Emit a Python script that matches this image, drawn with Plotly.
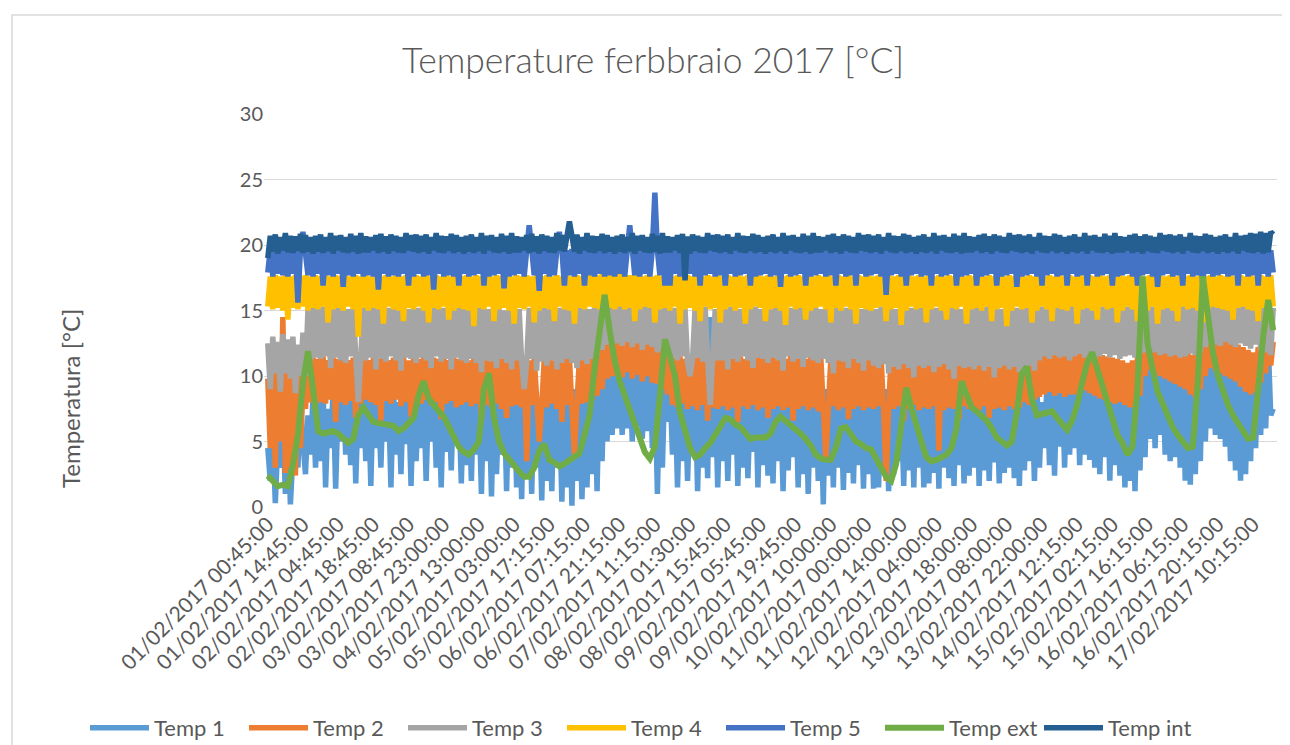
import numpy as np
import plotly.graph_objects as go

# ---------------- data ----------------
tick_labels = [
    "01/02/2017 00:45:00", "01/02/2017 14:45:00", "02/02/2017 04:45:00", "02/02/2017 18:45:00",
    "03/02/2017 08:45:00", "03/02/2017 23:00:00", "04/02/2017 13:00:00", "05/02/2017 03:00:00",
    "05/02/2017 17:15:00", "06/02/2017 07:15:00", "06/02/2017 21:15:00", "07/02/2017 11:15:00",
    "08/02/2017 01:30:00", "08/02/2017 15:45:00", "09/02/2017 05:45:00", "09/02/2017 19:45:00",
    "10/02/2017 10:00:00", "11/02/2017 00:00:00", "11/02/2017 14:00:00", "12/02/2017 04:00:00",
    "12/02/2017 18:00:00", "13/02/2017 08:00:00", "13/02/2017 22:00:00", "14/02/2017 12:15:00",
    "15/02/2017 02:15:00", "15/02/2017 16:15:00", "16/02/2017 06:15:00", "16/02/2017 20:15:00",
    "17/02/2017 10:15:00",
]
label_step = 56        # categories (15-min samples) between two shown labels
step_sensors = 4       # categories between two plotted samples of the sensor series (1 h)
step_ext = 8           # categories between two plotted samples of Temp ext (2 h)

temp1 = [
    4.5, 2.0, 6.0, 0.3, 5.0, 3.0, 7.0, 1.0, 6.5, 0.2, 4.0, 7.5, 3.0, 8.0, 5.0, 2.5, 7.0, 4.0, 8.5, 3.0,
    8.0, 3.5, 9.0, 1.5, 7.5, 4.5, 9.0, 1.4, 8.0, 5.0, 9.0, 4.0, 8.5, 3.2, 9.0, 1.8, 8.0, 4.5, 9.0, 3.5,
    8.5, 1.6, 9.0, 4.5, 8.0, 3.0, 9.0, 5.0, 8.5, 1.5, 9.0, 4.0, 8.0, 2.5, 9.0, 4.8, 8.5, 1.6, 9.0, 3.5,
    8.0, 4.5, 9.0, 2.0, 8.5, 5.0, 9.0, 3.0, 8.0, 1.5, 9.0, 4.2, 8.5, 2.8, 9.0, 5.0, 8.0, 1.8, 9.0, 3.2,
    8.5, 2.0, 9.0, 4.0, 8.0, 1.0, 9.0, 3.5, 8.5, 0.8, 9.0, 2.5, 8.0, 4.0, 9.0, 1.2, 8.5, 3.0, 9.0, 1.5,
    8.0, 0.6, 9.0, 2.5, 8.5, 1.0, 9.0, 3.0, 8.0, 0.5, 9.0, 2.0, 8.5, 1.2, 9.0, 3.0, 8.0, 0.4, 9.0, 1.5,
    8.5, 0.1, 9.0, 2.0, 8.0, 0.6, 9.0, 1.5, 8.5, 2.5, 9.0, 1.2, 10.0, 3.5, 11.0, 5.0, 14.5, 5.5, 11.0, 6.0,
    11.5, 5.5, 11.0, 6.0, 11.2, 5.0, 10.8, 6.2, 11.0, 5.2, 10.5, 5.8, 11.0, 4.5, 10.0, 1.0, 9.5, 3.0, 10.2, 6.5,
    9.5, 4.0, 9.0, 1.5, 8.5, 3.5, 9.0, 2.0, 8.0, 4.5, 9.0, 1.2, 8.5, 3.0, 9.0, 2.2, 14.5, 3.8, 9.0, 1.5,
    8.5, 3.5, 9.0, 2.0, 8.0, 4.0, 9.0, 1.6, 8.5, 3.0, 9.0, 2.2, 8.0, 4.2, 9.0, 1.5, 8.5, 3.2, 9.0, 2.4,
    8.5, 1.8, 9.0, 3.5, 8.0, 1.2, 9.0, 2.8, 8.5, 3.8, 9.0, 1.5, 8.0, 2.5, 9.0, 1.0, 8.5, 3.0, 9.0, 2.0,
    8.0, 0.2, 9.0, 2.4, 8.5, 1.5, 9.0, 3.0, 8.0, 1.3, 9.0, 2.6, 8.5, 1.8, 9.0, 3.2, 8.0, 1.4, 9.0, 2.5,
    8.5, 1.4, 9.0, 1.5, 8.0, 2.8, 9.0, 1.2, 8.5, 2.5, 9.0, 3.5, 8.0, 1.6, 9.0, 2.8, 8.5, 1.5, 9.0, 3.0,
    8.0, 1.5, 9.0, 1.8, 8.5, 2.6, 9.0, 1.4, 14.8, 3.0, 9.0, 2.2, 8.5, 1.6, 9.0, 3.2, 8.0, 1.8, 9.0, 2.4,
    8.5, 3.0, 9.0, 1.6, 8.0, 2.8, 9.0, 2.0, 8.5, 3.4, 9.0, 1.8, 8.0, 2.6, 9.0, 3.0, 8.5, 2.2, 9.0, 1.6,
    8.0, 2.8, 9.0, 3.5, 8.5, 2.0, 9.0, 3.0, 8.0, 4.5, 9.5, 3.2, 10.0, 2.4, 9.6, 4.6, 10.0, 3.0, 9.8, 4.0,
    9.5, 4.5, 10.0, 3.2, 9.8, 4.0, 10.2, 3.6, 9.5, 3.0, 10.0, 2.5, 9.5, 3.8, 9.8, 2.0, 9.5, 3.2, 9.2, 2.4,
    9.0, 1.5, 8.8, 2.0, 9.0, 1.2, 9.2, 2.8, 10.0, 3.8, 11.0, 5.2, 11.5, 4.5, 11.0, 5.5, 10.8, 4.0, 10.5, 3.5,
    10.2, 3.8, 10.0, 3.0, 9.8, 2.0, 9.6, 1.7, 9.5, 2.5, 10.0, 3.5, 11.5, 5.0, 11.2, 6.0, 11.0, 5.5, 10.8, 5.2,
    10.6, 4.6, 10.4, 3.5, 10.2, 2.8, 10.0, 2.0, 9.8, 2.5, 10.5, 3.5, 11.0, 4.5, 11.5, 5.5, 12.0, 6.0, 12.5, 7.0,
    7.5,
]
temp2 = [
    9.8, 4.5, 10.5, 3.0, 11.0, 5.0, 14.5, 2.6, 12.0, 3.0, 10.0, 2.4, 11.5, 4.5, 9.0, 7.5, 11.0, 8.0, 11.4, 7.8,
    11.3, 8.0, 11.5, 7.9, 11.2, 8.2, 11.4, 6.5, 11.3, 8.0, 11.5, 7.8, 11.2, 8.1, 11.4, 6.8, 11.3, 7.9, 11.5, 8.2,
    11.2, 8.0, 11.4, 7.8, 11.3, 6.6, 11.5, 8.1, 11.2, 7.9, 11.4, 8.2, 11.3, 7.7, 11.5, 8.0, 11.2, 6.9, 11.4, 8.1,
    11.3, 7.9, 11.5, 8.2, 11.2, 7.8, 11.4, 8.0, 11.3, 6.7, 11.5, 7.9, 11.2, 8.1, 11.4, 7.6, 11.3, 7.8, 11.5, 8.0,
    11.2, 7.7, 11.4, 7.9, 11.3, 6.5, 11.5, 7.8, 11.2, 7.6, 11.4, 7.9, 11.3, 7.5, 11.5, 6.8, 11.2, 7.7, 11.4, 7.8,
    11.3, 7.6, 11.5, 3.5, 11.2, 7.8, 11.4, 7.5, 5.0, 7.7, 11.3, 7.6, 11.5, 7.9, 11.2, 7.5, 11.4, 6.5, 11.3, 7.8,
    11.4, 7.6, 4.0, 7.8, 11.5, 7.9, 11.2, 8.0, 11.4, 8.2, 11.5, 8.5, 12.0, 9.0, 12.4, 9.8, 12.8, 10.0, 13.0, 10.2,
    12.8, 9.9, 13.1, 10.3, 12.9, 9.8, 13.0, 10.1, 12.7, 9.6, 12.9, 10.0, 12.6, 9.5, 12.8, 9.4, 12.4, 9.0, 12.0, 8.6,
    11.6, 7.8, 11.4, 7.6, 11.5, 7.9, 11.3, 7.5, 11.6, 7.7, 11.4, 7.4, 11.5, 7.8, 11.3, 6.6, 11.6, 7.6, 11.4, 7.5,
    11.5, 7.7, 11.3, 7.4, 11.6, 7.6, 11.4, 6.5, 11.5, 7.7, 11.3, 7.5, 11.6, 7.8, 11.4, 7.4, 11.5, 7.6, 11.3, 6.8,
    11.6, 7.5, 11.4, 7.7, 11.5, 7.4, 11.3, 7.6, 11.6, 6.6, 11.4, 7.5, 11.5, 7.7, 11.3, 7.4, 11.6, 7.6, 11.4, 7.3,
    11.5, 7.6, 3.7, 7.5, 11.3, 7.7, 11.6, 7.4, 11.4, 7.6, 11.5, 6.7, 11.3, 7.5, 11.6, 7.7, 11.4, 7.4, 11.5, 7.6,
    11.3, 7.5, 11.6, 7.7, 11.4, 7.4, 2.0, 7.6, 11.5, 7.5, 11.3, 7.7, 11.6, 6.6, 11.4, 7.5, 11.5, 7.8, 11.3, 7.4,
    11.6, 7.6, 11.4, 7.5, 11.5, 7.7, 11.3, 4.3, 11.6, 7.4, 11.4, 7.6, 11.5, 7.5, 11.3, 6.7, 11.6, 7.7, 11.4, 7.5,
    11.5, 7.6, 11.3, 7.4, 11.6, 7.7, 11.4, 6.8, 11.5, 7.5, 11.3, 7.6, 11.6, 7.4, 11.4, 7.7, 11.5, 7.5, 11.3, 7.6,
    11.6, 8.0, 11.4, 7.8, 11.5, 8.2, 11.7, 8.4, 11.8, 8.6, 12.0, 8.8, 11.9, 8.5, 12.1, 8.7, 11.8, 8.4, 12.0, 8.6,
    12.0, 8.6, 11.8, 8.8, 12.2, 8.9, 12.0, 8.7, 11.9, 8.5, 11.8, 8.3, 11.6, 8.2, 11.5, 8.0, 11.4, 7.9, 11.3, 8.0,
    11.2, 7.8, 11.0, 7.6, 11.2, 7.8, 11.5, 8.5, 13.0, 10.0, 13.5, 10.5, 13.2, 10.2, 13.0, 10.0, 12.8, 9.8, 12.6, 9.6,
    12.5, 9.4, 12.3, 9.2, 12.0, 9.0, 11.8, 8.6, 11.6, 8.4, 11.8, 9.0, 12.5, 10.0, 13.5, 10.6, 13.3, 10.4, 13.2, 10.2,
    13.0, 10.0, 12.8, 9.8, 12.6, 9.6, 12.4, 9.2, 12.2, 8.8, 12.0, 8.6, 11.8, 8.8, 12.2, 9.5, 12.6, 10.2, 13.0, 10.8,
    12.6,
]
temp3 = [
    12.5, 9.0, 13.0, 10.2, 12.6, 8.8, 13.2, 10.2, 12.8, 9.8, 13.0, 8.7, 12.4, 10.0, 13.3, 10.0, 15.1, 11.2, 15.2, 11.4,
    15.2, 11.3, 15.3, 11.5, 15.1, 10.6, 15.2, 11.4, 15.2, 11.2, 15.2, 11.0, 15.1, 11.5, 15.2, 11.3, 8.0, 11.4, 15.3, 11.2,
    15.1, 11.4, 15.2, 10.5, 15.3, 11.3, 15.2, 11.1, 15.2, 11.5, 15.1, 11.2, 15.2, 10.4, 15.3, 11.4, 15.1, 11.3, 15.2, 11.0,
    15.2, 11.4, 15.3, 11.2, 15.1, 10.6, 15.2, 11.5, 15.2, 11.1, 15.2, 11.3, 15.3, 10.5, 15.1, 11.4, 15.2, 11.2, 15.2, 11.0,
    15.1, 11.3, 15.2, 11.0, 15.2, 10.3, 15.1, 11.2, 15.1, 11.1, 15.2, 10.6, 15.2, 11.3, 15.0, 11.0, 15.1, 10.5, 15.2, 11.2,
    15.1, 11.1, 9.0, 11.0, 15.2, 11.3, 15.0, 10.4, 15.2, 11.1, 15.2, 10.8, 15.1, 11.2, 15.1, 10.5, 15.2, 11.0, 15.2, 11.3,
    15.1, 11.0, 15.1, 10.6, 15.2, 11.2, 15.2, 10.9, 15.1, 11.3, 15.3, 11.6, 15.4, 12.0, 15.4, 12.4, 15.5, 12.2, 15.4, 12.5,
    15.5, 12.3, 15.4, 12.6, 15.5, 12.2, 15.4, 12.5, 15.5, 12.0, 15.4, 12.4, 15.4, 12.2, 15.3, 11.8, 15.3, 12.0, 15.2, 11.6,
    15.2, 11.4, 15.2, 11.2, 15.3, 11.5, 15.1, 11.0, 10.0, 11.3, 15.2, 11.4, 15.2, 11.1, 15.3, 11.3, 7.8, 11.4, 15.1, 11.2,
    15.2, 11.2, 15.2, 10.5, 15.3, 11.3, 15.2, 11.1, 15.1, 11.5, 15.2, 11.2, 15.2, 10.6, 15.3, 11.4, 15.1, 11.3, 15.2, 11.0,
    15.2, 11.4, 15.3, 11.2, 15.1, 10.4, 15.2, 11.5, 15.2, 11.1, 15.2, 11.3, 15.3, 10.7, 15.1, 11.4, 15.2, 11.2, 15.2, 11.0,
    15.1, 11.3, 15.2, 11.0, 15.2, 10.2, 15.3, 11.2, 15.1, 11.1, 15.2, 10.6, 15.2, 11.3, 15.2, 11.0, 15.1, 10.4, 15.2, 11.2,
    15.2, 10.8, 15.1, 10.6, 15.3, 10.9, 15.2, 10.2, 15.2, 10.7, 15.1, 10.5, 15.2, 10.9, 15.2, 10.6, 15.2, 9.9, 15.1, 10.8,
    15.3, 10.6, 15.1, 10.8, 15.2, 10.3, 15.2, 10.7, 15.3, 10.9, 15.1, 10.5, 15.2, 9.8, 15.2, 10.8, 15.1, 10.6, 15.2, 10.7,
    15.2, 10.5, 15.2, 10.8, 15.1, 10.4, 15.3, 10.7, 15.2, 9.9, 15.2, 10.6, 15.1, 10.8, 15.3, 10.5, 15.2, 10.7, 15.2, 10.3,
    15.1, 10.6, 15.3, 10.8, 15.2, 10.4, 15.2, 11.2, 15.3, 11.5, 15.3, 11.3, 15.2, 11.6, 15.4, 11.4, 15.3, 11.5, 15.3, 11.2,
    15.4, 11.5, 15.3, 11.7, 15.3, 11.4, 15.3, 11.6, 15.4, 11.3, 15.3, 11.5, 15.3, 11.7, 15.3, 11.4, 15.4, 11.6, 15.3, 11.3,
    15.3, 11.5, 15.3, 11.6, 15.4, 11.4, 15.3, 11.7, 15.3, 11.8, 15.4, 12.0, 15.3, 11.8, 15.4, 11.6, 15.4, 11.7, 15.4, 11.5,
    15.3, 11.6, 15.3, 11.4, 15.4, 11.5, 15.4, 11.7, 15.4, 11.6, 15.3, 11.8, 15.4, 12.2, 15.5, 12.5, 15.6, 12.4, 15.5, 12.3,
    15.6, 12.6, 15.5, 12.4, 15.6, 12.2, 15.5, 12.5, 15.5, 12.3, 15.6, 12.1, 15.5, 12.4, 15.4, 12.0, 15.3, 11.8, 15.3, 11.6,
    15.2,
]
temp4 = [
    15.3, 17.6, 15.1, 17.7, 15.2, 17.6, 15.0, 17.7, 14.3, 17.6, 15.2, 17.7, 15.1, 17.6, 15.3, 17.7, 15.0, 17.6, 15.2, 17.7,
    15.1, 17.6, 15.3, 17.7, 14.1, 17.6, 15.1, 17.7, 15.2, 17.6, 15.0, 17.7, 15.3, 17.6, 15.1, 17.7, 13.0, 17.6, 15.2, 17.7,
    15.0, 17.6, 15.2, 17.7, 15.1, 17.6, 14.0, 17.7, 15.3, 17.6, 15.1, 17.7, 15.0, 17.6, 14.2, 17.7, 15.2, 17.6, 15.1, 17.7,
    15.3, 17.6, 15.0, 17.7, 14.1, 17.6, 15.2, 17.7, 15.1, 17.6, 15.3, 17.7, 14.3, 17.6, 15.0, 17.7, 15.2, 17.6, 15.1, 17.7,
    15.0, 17.6, 13.8, 17.7, 15.2, 17.6, 15.1, 17.7, 15.3, 17.6, 14.2, 17.7, 15.1, 17.6, 15.2, 17.7, 15.0, 17.6, 14.0, 17.7,
    15.2, 17.6, 15.1, 17.7, 15.3, 17.6, 14.1, 17.7, 15.0, 17.6, 15.2, 17.7, 15.1, 17.6, 14.2, 17.7, 15.3, 17.6, 15.1, 17.7,
    15.0, 17.6, 14.0, 17.7, 15.2, 17.6, 15.1, 17.7, 15.3, 17.7, 15.2, 17.7, 15.1, 17.8, 15.3, 17.8, 15.2, 17.9, 15.1, 17.8,
    15.3, 17.8, 15.1, 17.7, 15.2, 17.7, 14.2, 17.7, 15.1, 17.6, 15.3, 17.7, 15.2, 17.6, 14.1, 17.7, 15.1, 17.6, 15.2, 17.7,
    15.0, 17.6, 15.3, 17.7, 14.0, 17.6, 15.1, 17.7, 15.2, 17.6, 15.0, 17.7, 14.2, 17.6, 15.3, 17.7, 15.1, 17.6, 15.2, 17.7,
    14.1, 17.6, 15.1, 17.7, 15.3, 17.6, 15.0, 17.7, 15.2, 17.6, 14.0, 17.7, 15.1, 17.6, 15.3, 17.7, 15.2, 17.6, 14.2, 17.7,
    15.1, 17.6, 15.2, 17.7, 15.0, 17.6, 13.9, 17.7, 15.3, 17.6, 15.1, 17.7, 15.2, 17.6, 14.3, 17.7, 15.0, 17.6, 15.2, 17.7,
    15.3, 17.6, 15.1, 17.7, 14.1, 17.6, 15.2, 17.7, 15.0, 17.6, 15.3, 17.7, 15.1, 17.6, 14.0, 17.7, 15.2, 17.6, 15.1, 17.7,
    15.0, 17.6, 15.2, 17.7, 15.3, 17.6, 14.2, 17.7, 15.1, 17.6, 15.2, 17.7, 13.9, 17.6, 15.0, 17.7, 15.3, 17.6, 15.1, 17.7,
    15.2, 17.6, 14.1, 17.7, 15.1, 17.6, 15.3, 17.7, 15.0, 17.6, 14.3, 17.7, 15.2, 17.6, 15.1, 17.7, 15.3, 17.6, 14.0, 17.7,
    15.1, 17.6, 15.2, 17.7, 15.0, 17.6, 15.3, 17.7, 14.2, 17.6, 15.1, 17.7, 15.2, 17.6, 13.8, 17.7, 15.0, 17.6, 15.3, 17.7,
    15.1, 17.6, 15.2, 17.7, 14.1, 17.6, 15.0, 17.7, 15.3, 17.6, 15.1, 17.7, 14.2, 17.6, 15.2, 17.7, 15.1, 17.6, 15.0, 17.7,
    15.3, 17.6, 14.0, 17.7, 15.1, 17.6, 15.2, 17.7, 15.0, 17.6, 14.3, 17.7, 15.3, 17.6, 15.1, 17.7, 15.2, 17.6, 14.1, 17.7,
    15.0, 17.6, 15.3, 17.7, 15.1, 17.6, 14.2, 17.7, 15.2, 17.6, 15.0, 17.7, 15.3, 17.6, 14.0, 17.7, 15.1, 17.6, 15.2, 17.7,
    15.0, 17.6, 14.2, 17.7, 15.3, 17.6, 15.1, 17.7, 15.2, 17.6, 15.0, 17.7, 14.1, 17.6, 15.1, 17.7, 15.3, 17.6, 15.2, 17.7,
    15.1, 17.6, 15.0, 17.7, 14.3, 17.6, 15.2, 17.7, 15.3, 17.6, 15.1, 17.7, 15.0, 17.6, 14.2, 17.7, 15.2, 17.6, 15.1, 17.7,
    15.3,
]
temp5 = [
    17.9, 19.7, 17.6, 19.6, 17.8, 19.7, 17.7, 19.6, 17.6, 19.7, 17.8, 19.6, 15.6, 19.7, 21.0, 19.6, 17.7, 19.7, 17.6, 19.6,
    17.8, 19.7, 16.9, 19.6, 17.7, 19.7, 17.6, 19.6, 17.8, 19.7, 16.8, 19.6, 17.7, 19.7, 17.6, 19.6, 17.8, 19.7, 17.6, 19.6,
    17.7, 19.7, 17.6, 19.6, 16.6, 19.7, 17.8, 19.6, 17.6, 19.7, 17.7, 19.6, 17.6, 19.7, 17.8, 19.6, 16.9, 19.7, 17.6, 19.6,
    17.8, 19.7, 17.6, 19.6, 17.7, 19.7, 16.6, 19.6, 17.8, 19.7, 17.6, 19.6, 17.7, 19.7, 17.6, 19.6, 16.9, 19.7, 17.8, 19.6,
    17.6, 19.7, 17.7, 19.6, 17.8, 19.7, 16.9, 19.6, 17.6, 19.7, 17.7, 19.6, 17.8, 19.7, 16.7, 19.6, 17.6, 19.7, 17.7, 19.6,
    17.8, 19.7, 17.6, 19.6, 21.5, 19.7, 17.7, 19.6, 16.5, 19.7, 17.8, 19.6, 17.6, 19.7, 17.7, 19.6, 21.0, 19.7, 16.9, 19.6,
    17.7, 19.7, 17.6, 19.6, 17.8, 19.7, 16.9, 19.6, 17.7, 19.7, 17.6, 19.6, 17.8, 19.7, 17.6, 19.6, 17.7, 19.7, 17.6, 19.6,
    17.8, 19.7, 17.6, 19.6, 21.5, 19.7, 17.7, 19.6, 17.6, 19.7, 17.8, 19.6, 17.6, 19.7, 24.0, 19.6, 17.7, 19.7, 16.9, 19.6,
    16.9, 19.7, 17.8, 19.6, 17.6, 19.7, 17.7, 19.6, 17.8, 19.7, 17.6, 19.6, 16.9, 19.7, 17.7, 19.6, 17.8, 19.7, 17.6, 19.6,
    17.7, 19.7, 16.9, 19.6, 17.8, 19.7, 17.6, 19.6, 17.7, 19.7, 17.8, 19.6, 16.9, 19.7, 17.6, 19.6, 17.7, 19.7, 17.8, 19.6,
    17.6, 19.7, 17.7, 19.6, 16.8, 19.7, 17.8, 19.6, 17.6, 19.7, 17.7, 19.6, 17.8, 19.7, 16.9, 19.6, 17.6, 19.7, 17.7, 19.6,
    17.8, 19.7, 17.6, 19.6, 17.7, 19.7, 16.9, 19.6, 17.8, 19.7, 17.6, 19.6, 17.7, 19.7, 16.9, 19.6, 17.8, 19.7, 17.6, 19.6,
    17.7, 19.7, 17.8, 19.6, 17.6, 19.7, 16.2, 19.6, 17.7, 19.7, 17.8, 19.6, 17.6, 19.7, 16.9, 19.6, 17.7, 19.7, 17.8, 19.6,
    17.6, 19.7, 17.7, 19.6, 16.9, 19.7, 17.8, 19.6, 17.6, 19.7, 17.7, 19.6, 17.8, 19.7, 16.9, 19.6, 17.6, 19.7, 17.7, 19.6,
    17.8, 19.7, 16.9, 19.6, 17.6, 19.7, 17.7, 19.6, 17.8, 19.7, 16.9, 19.6, 17.6, 19.7, 17.7, 19.6, 17.8, 19.7, 16.8, 19.6,
    17.6, 19.7, 17.7, 19.6, 17.8, 19.7, 17.6, 19.6, 16.9, 19.7, 17.7, 19.6, 17.8, 19.7, 17.6, 19.6, 17.7, 19.7, 16.9, 19.6,
    17.8, 19.7, 17.6, 19.6, 17.7, 19.7, 16.9, 19.6, 17.8, 19.7, 17.6, 19.6, 17.7, 19.7, 17.8, 19.6, 16.9, 19.7, 17.6, 19.6,
    17.7, 19.7, 17.8, 19.6, 17.6, 19.7, 16.9, 19.6, 17.7, 19.7, 17.8, 19.6, 17.6, 19.7, 16.8, 19.6, 17.7, 19.7, 17.8, 19.6,
    17.6, 19.7, 17.7, 19.6, 16.9, 19.7, 17.8, 19.6, 17.6, 19.7, 17.7, 19.6, 16.9, 19.7, 17.8, 19.6, 17.6, 19.7, 17.7, 19.6,
    17.8, 19.7, 17.6, 19.6, 17.7, 19.7, 16.9, 19.6, 17.8, 19.7, 17.6, 19.6, 17.7, 19.7, 16.9, 19.6, 17.8, 19.7, 17.6, 19.6,
    17.9,
]
temp_ext = [
    2.4, 2.0, 1.6, 1.7, 1.6, 3.2, 5.5, 9.5, 11.9, 9.0,
    5.8, 5.6, 5.7, 5.8, 5.6, 5.3, 4.9, 5.2, 7.0, 7.6,
    7.0, 6.5, 6.4, 6.3, 6.3, 6.2, 5.8, 6.0, 6.4, 6.8,
    8.5, 9.6, 8.3, 7.7, 7.3, 6.9, 6.2, 5.3, 4.6, 4.2,
    4.0, 4.4, 5.0, 9.0, 10.2, 6.8, 5.0, 4.1, 3.6, 3.2,
    2.7, 2.3, 2.3, 3.0, 4.3, 4.8, 3.6, 3.4, 3.1, 3.3,
    3.6, 3.9, 4.1, 5.5, 7.0, 10.5, 13.8, 16.2, 13.5, 11.2,
    9.6, 8.5, 7.2, 6.3, 5.2, 4.2, 3.7, 4.6, 8.5, 12.8,
    11.5, 10.0, 7.2, 5.7, 4.5, 3.8, 4.0, 4.5, 4.9, 5.5,
    6.2, 6.8, 6.7, 6.3, 6.1, 5.7, 5.2, 5.3, 5.3, 5.3,
    5.6, 6.5, 6.9, 6.6, 6.3, 6.0, 5.6, 5.2, 4.7, 4.0,
    3.7, 3.6, 3.6, 4.5, 6.0, 6.1, 5.6, 5.0, 4.8, 4.5,
    4.4, 3.8, 3.0, 2.3, 2.0, 3.3, 6.5, 9.1, 7.6, 6.1,
    5.0, 3.8, 3.5, 3.6, 3.8, 4.0, 4.5, 6.0, 9.6, 8.6,
    7.6, 7.3, 7.0, 6.6, 6.0, 5.3, 5.0, 4.7, 5.0, 7.2,
    10.2, 10.7, 8.2, 7.0, 7.1, 7.2, 7.3, 6.8, 6.3, 5.9,
    6.6, 7.8, 9.5, 11.0, 11.8, 10.5, 9.3, 8.0, 6.7, 5.5,
    4.9, 4.0, 4.6, 9.0, 17.6, 12.5, 10.5, 8.8, 7.9, 7.0,
    6.1, 5.5, 5.0, 4.5, 4.6, 9.5, 17.6, 14.5, 11.8, 10.0,
    8.8, 7.8, 7.0, 6.3, 5.8, 5.2, 5.3, 9.0, 13.0, 15.8,
    13.5,
]
temp_int = [
    19.0, 20.7, 19.5, 20.8, 19.35, 20.6, 19.6, 20.9, 19.45, 20.7, 19.4, 20.65, 19.55, 20.85, 19.4, 20.75, 19.5, 20.6, 19.35, 20.7,
    19.5, 20.8, 19.4, 20.6, 19.55, 20.9, 19.35, 20.7, 19.6, 20.75, 19.45, 20.6, 19.4, 20.85, 19.5, 20.7, 19.35, 20.9, 19.45, 20.65,
    19.45, 20.6, 19.6, 20.75, 19.4, 20.85, 19.5, 20.65, 19.35, 20.8, 19.55, 20.7, 19.45, 20.6, 19.4, 20.9, 19.6, 20.75, 19.5, 20.8,
    19.4, 20.7, 19.5, 20.8, 19.35, 20.6, 19.6, 20.9, 19.45, 20.7, 19.4, 20.65, 19.55, 20.85, 19.4, 20.75, 19.5, 20.6, 19.35, 20.7,
    19.5, 20.8, 19.4, 20.6, 19.55, 20.9, 19.35, 20.7, 19.6, 20.75, 19.45, 20.6, 19.4, 20.85, 19.5, 20.7, 19.35, 20.9, 19.45, 20.65,
    19.45, 20.6, 19.6, 20.75, 19.4, 20.85, 19.5, 20.65, 19.35, 20.8, 19.55, 20.7, 19.45, 20.6, 19.4, 20.9, 19.6, 20.75, 19.5, 20.8,
    21.8, 20.7, 19.5, 20.8, 19.35, 20.6, 19.6, 20.9, 19.45, 20.7, 19.4, 20.65, 19.55, 20.85, 19.4, 20.75, 19.5, 20.6, 19.35, 20.7,
    19.5, 20.8, 19.4, 20.6, 19.55, 20.9, 19.35, 20.7, 19.6, 20.75, 19.45, 20.6, 19.4, 20.85, 19.5, 20.7, 19.35, 20.9, 19.45, 20.65,
    19.45, 20.6, 19.6, 20.75, 19.4, 20.85, 17.3, 20.65, 19.35, 20.8, 19.55, 20.7, 19.45, 20.6, 19.4, 20.9, 19.6, 20.75, 19.5, 20.8,
    19.4, 20.7, 19.5, 20.8, 19.35, 20.6, 19.6, 20.9, 19.45, 20.7, 19.4, 20.65, 19.55, 20.85, 19.4, 20.75, 19.5, 20.6, 19.35, 20.7,
    19.5, 20.8, 19.4, 20.6, 19.55, 20.9, 19.35, 20.7, 19.6, 20.75, 19.45, 20.6, 19.4, 20.85, 19.5, 20.7, 19.35, 20.9, 19.45, 20.65,
    19.45, 20.6, 19.6, 20.75, 19.4, 20.85, 19.5, 20.65, 19.35, 20.8, 19.55, 20.7, 19.45, 20.6, 19.4, 20.9, 19.6, 20.75, 19.5, 20.8,
    19.4, 20.7, 19.5, 20.8, 19.35, 20.6, 19.6, 20.9, 19.45, 20.7, 19.4, 20.65, 19.55, 20.85, 19.4, 20.75, 19.5, 20.6, 19.35, 20.7,
    19.5, 20.8, 19.4, 20.6, 19.55, 20.9, 19.35, 20.7, 19.6, 20.75, 19.45, 20.6, 19.4, 20.85, 19.5, 20.7, 19.35, 20.9, 19.45, 20.65,
    19.45, 20.6, 19.6, 20.75, 19.4, 20.85, 19.5, 20.65, 19.35, 20.8, 19.55, 20.7, 19.45, 20.6, 19.4, 20.9, 19.6, 20.75, 19.5, 20.8,
    19.4, 20.7, 19.5, 20.8, 19.35, 20.6, 19.6, 20.9, 19.45, 20.7, 19.4, 20.65, 19.55, 20.85, 19.4, 20.75, 19.5, 20.6, 19.35, 20.7,
    19.5, 20.8, 19.4, 20.6, 19.55, 20.9, 19.35, 20.7, 19.6, 20.75, 19.45, 20.6, 19.4, 20.85, 19.5, 20.7, 19.35, 20.9, 19.45, 20.65,
    19.45, 20.6, 19.6, 20.75, 19.4, 20.85, 19.5, 20.65, 19.35, 20.8, 19.55, 20.7, 19.45, 20.6, 19.4, 20.9, 19.6, 20.75, 19.5, 20.8,
    19.4, 20.7, 19.5, 20.8, 19.35, 20.6, 19.6, 20.9, 19.45, 20.7, 19.4, 20.65, 19.55, 20.85, 19.4, 20.75, 19.5, 20.6, 19.35, 20.7,
    19.5, 20.8, 19.4, 20.6, 19.55, 20.9, 19.35, 20.7, 19.6, 20.75, 19.45, 20.9, 19.4, 20.85, 19.5, 21.0, 19.35, 20.9, 19.45, 21.0,
    20.8,
]

series_names = ["Temp 1", "Temp 2", "Temp 3", "Temp 4", "Temp 5", "Temp ext", "Temp int"]
series_values = [temp1, temp2, temp3, temp4, temp5, temp_ext, temp_int]
series_steps = [step_sensors, step_sensors, step_sensors, step_sensors, step_sensors, step_ext, step_sensors]
series_colors = ["#5B9BD5", "#ED7D31", "#A5A5A5", "#FFC000", "#4472C4", "#70AD47", "#255E91"]
series_widths = [5.5, 5.5, 5.5, 5.5, 5.5, 6, 5.5]

# ---------------- figure ----------------
FONT = "Lato, 'Open Sans', sans-serif"
TXT = "#595959"
GRID = "#D9D9D9"

fig = go.Figure()
for name, vals, stp, col, lw in zip(series_names, series_values, series_steps, series_colors, series_widths):
    x_idx = np.arange(len(vals)) * stp
    fig.add_trace(go.Scatter(
        x=x_idx, y=vals, name=name, mode="lines",
        line=dict(color=col, width=lw),
        hoverinfo="skip",
    ))

tickvals = [k * label_step for k in range(len(tick_labels))]

L, R, T, B = 256, 21, 106, 246
W, H = 1290, 745
pw = W - L - R
ph = H - T - B


def px2paper_x(px):
    return (px - L) / pw


def px2paper_y(py):
    return (H - B - py) / ph


fig.update_layout(
    width=W, height=H,
    margin=dict(l=L, r=R, t=T, b=B, autoexpand=False),
    paper_bgcolor="white", plot_bgcolor="white",
    font=dict(family=FONT, color=TXT),
    title=dict(text="Temperature ferbbraio 2017 [°C]", x=0.5, xref="container", xanchor="center",
               y=1 - 53 / H, yref="container", yanchor="middle",
               font=dict(family=FONT, size=35.5, color=TXT, weight=300)),
    xaxis=dict(range=[-6, 1606], tickmode="array", tickvals=tickvals, ticktext=tick_labels,
               tickangle=-45, tickfont=dict(family=FONT, size=21, color=TXT),
               showgrid=False, zeroline=False, showline=False, ticks="", automargin=False),
    yaxis=dict(range=[0, 30], tickvals=[0, 5, 10, 15, 20, 25, 30],
               tickfont=dict(family=FONT, size=20, color=TXT),
               showgrid=True, gridcolor=GRID, gridwidth=1.3, zeroline=False, showline=False,
               ticks="", automargin=False),
    showlegend=True,
    legend=dict(orientation="h", xref="paper", x=px2paper_x(77), xanchor="left",
                yref="paper", y=px2paper_y(720), yanchor="middle",
                font=dict(family=FONT, size=22, color=TXT), itemwidth=59,
                entrywidth=85, entrywidthmode="pixels", borderwidth=0,
                bgcolor="rgba(0,0,0,0)"),
    annotations=[dict(text="Temperatura [°C]", textangle=-90, showarrow=False,
                      xref="paper", yref="paper", x=px2paper_x(62), y=px2paper_y(391),
                      xanchor="center", yanchor="middle",
                      font=dict(family=FONT, size=24, color=TXT))],
    shapes=[dict(type="rect", xref="paper", yref="paper",
                 x0=px2paper_x(4), x1=px2paper_x(1286), y0=px2paper_y(760), y1=px2paper_y(7),
                 line=dict(color=GRID, width=1.5), fillcolor="rgba(0,0,0,0)", layer="below")],
    hovermode=False,
)

fig.write_html("out.html", config={"displayModeBar": False})
